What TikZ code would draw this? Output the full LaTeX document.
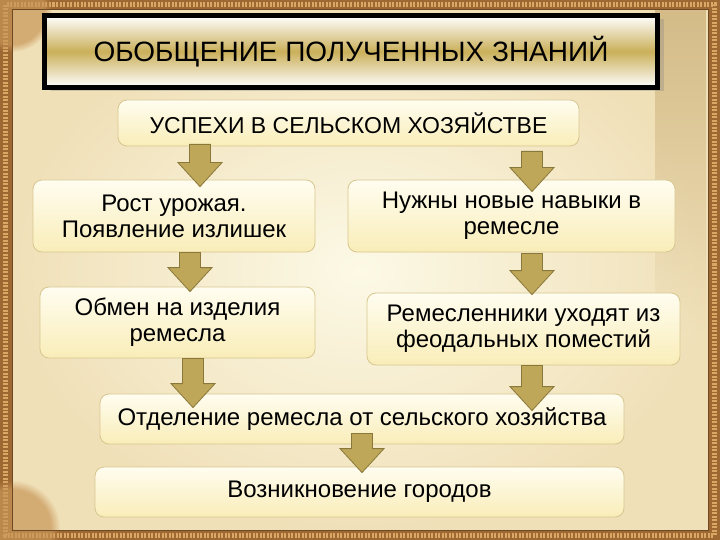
\documentclass[tikz,border=0pt]{standalone}
\usepackage{fontspec}
\setmainfont{Liberation Sans}
\usetikzlibrary{positioning,calc,shadows,fadings}
\definecolor{frameBrown}{RGB}{158,104,50}
\definecolor{frameBead}{RGB}{218,168,100}
\definecolor{cornerGold}{RGB}{200,150,88}
\definecolor{parchLight}{RGB}{252,249,230}
\definecolor{parchDark}{RGB}{240,224,184}
\definecolor{curtainTan}{RGB}{200,172,116}
\definecolor{goldBand}{RGB}{202,176,90}
\definecolor{boxTop}{RGB}{255,253,240}
\definecolor{boxBottom}{RGB}{249,237,184}
\definecolor{boxLine}{RGB}{216,198,144}
\definecolor{arrowFill}{RGB}{190,167,88}
\definecolor{arrowLine}{RGB}{138,120,58}
\tikzset{
  stepbox/.style={rectangle, rounded corners=9pt, draw=boxLine, line width=0.8pt,
    top color=boxTop, bottom color=boxBottom, align=center, inner sep=0pt,
    font=\fontsize{24}{26}\selectfont},
  titlebox/.style={rectangle, draw=black, line width=5pt,
    top color=white, bottom color=white, middle color=goldBand,
    drop shadow={shadow xshift=6pt, shadow yshift=-4pt, opacity=0.3},
    minimum width=613pt, minimum height=72pt, font=\fontsize{28}{30}\selectfont},
  fatarrow/.style={draw=arrowLine, fill=arrowFill, line width=0.8pt,
    to path={let \p1=(\tikztostart), \p2=(\tikztotarget) in
      (\x1-10.5pt,\y1) -- (\x1+10.5pt,\y1) -- (\x1+10.5pt,\y2+24pt)
      -- (\x1+22pt,\y2+24pt) -- (\x1,\y2) -- (\x1-22pt,\y2+24pt)
      -- (\x1-10.5pt,\y2+24pt) -- cycle}},
}
\begin{document}
\begin{tikzpicture}[x=1pt,y=-1pt]
  \useasboundingbox (0,0) rectangle (720,540);
  % frame and parchment
  \fill[frameBrown] (0,0) rectangle (720,540);
  \draw[frameBead, line width=5pt, dash pattern=on 2pt off 1.5pt] (5.5,5) rectangle (714.5,535);
  \shade[inner color=parchLight, outer color=parchDark] (12,10) rectangle (708,530);
  \fill[curtainTan, opacity=0.7, path fading=south] (655,10) rectangle (706,330);
  \fill[cornerGold, opacity=0.7, path fading=circle with fuzzy edge 20 percent] (12,12) circle (40);
  \fill[cornerGold, opacity=0.7, path fading=circle with fuzzy edge 20 percent] (12,528) circle (48);
  \draw[frameBrown!70!black, line width=1pt] (12,10) rectangle (708,530);

  % boxes
  \node[titlebox] (title) at (351,51.5) {ОБОБЩЕНИЕ ПОЛУЧЕННЫХ ЗНАНИЙ};
  \node[stepbox, minimum width=461pt, minimum height=46pt, font=\fontsize{23}{25}\selectfont] (succ) at (348.5,123) {УСПЕХИ В СЕЛЬСКОМ ХОЗЯЙСТВЕ};
  \node[stepbox, minimum width=282pt, minimum height=72pt] (harvest) at (174,216) {Рост урожая.\\Появление излишек};
  \node[stepbox, minimum width=327pt, minimum height=72pt] (skills) at (511.5,216) {Нужны новые навыки в\\ремесле};
  \node[stepbox, minimum width=275pt, minimum height=71pt] (exchange) at (177.5,322.5) {Обмен на изделия\\ремесла};
  \node[stepbox, minimum width=313pt, minimum height=72pt] (artisans) at (523.5,329) {Ремесленники уходят из\\феодальных поместий};
  \node[stepbox, minimum width=524pt, minimum height=50pt] (split) at (362,419) {Отделение ремесла от сельского хозяйства};
  \node[stepbox, minimum width=529pt, minimum height=50pt] (towns) at (359.5,492) {Возникновение городов};

  % arrows
  \draw[fatarrow] ([xshift=-148.5pt,yshift=2pt]succ.south) to ([xshift=26pt,yshift=-7pt]harvest.north);
  \draw[fatarrow] ([xshift=183.5pt,yshift=-5pt]succ.south) to ([xshift=20.5pt,yshift=-12pt]skills.north);
  \draw[fatarrow] ([xshift=16pt]harvest.south) to ([xshift=12.5pt,yshift=-5pt]exchange.north);
  \draw[fatarrow] ([xshift=20.5pt,yshift=-1pt]skills.south) to ([xshift=8.5pt,yshift=-2pt]artisans.north);
  \draw[fatarrow] ([xshift=15.5pt]exchange.south) to ([xshift=-169pt,yshift=-14pt]split.north);
  \draw[fatarrow] ([xshift=8.5pt]artisans.south) to ([xshift=170pt,yshift=-17pt]split.north);
  \draw[fatarrow] ([yshift=11pt]split.south) to ([xshift=2.5pt,yshift=-6pt]towns.north);
\end{tikzpicture}
\end{document}
